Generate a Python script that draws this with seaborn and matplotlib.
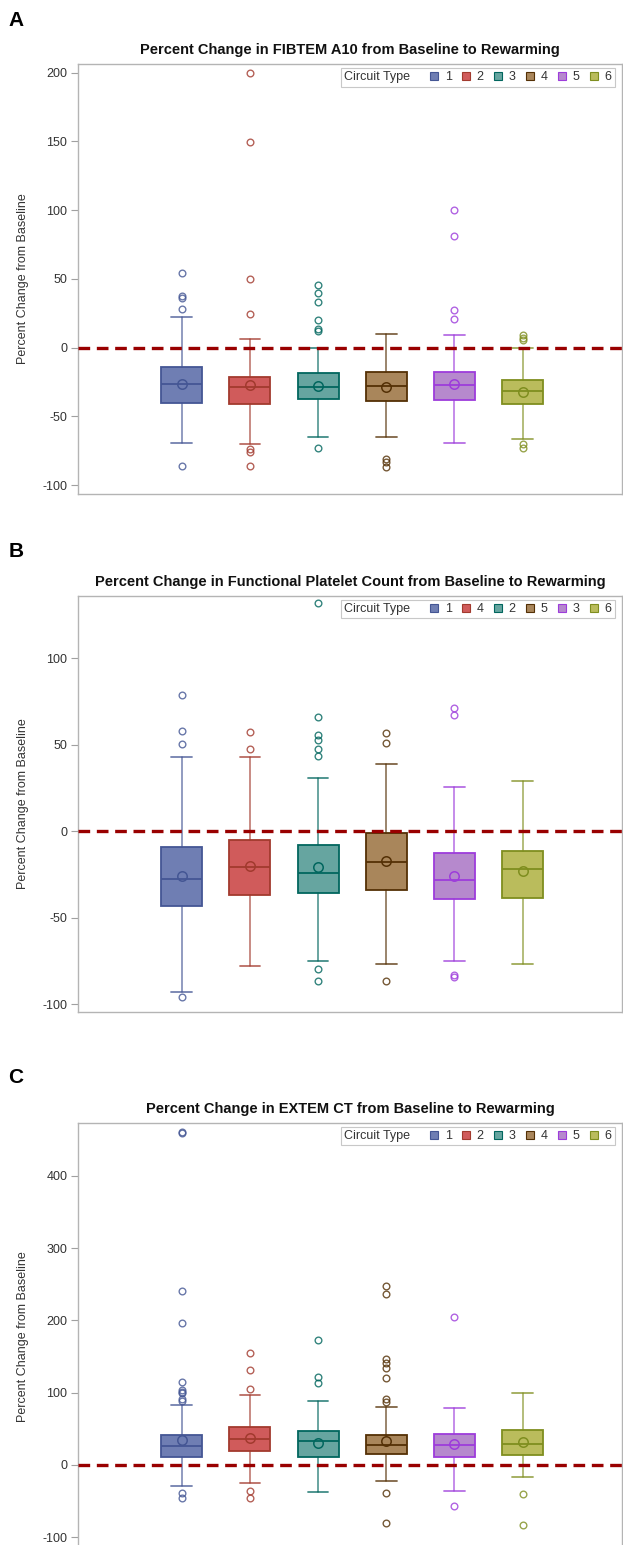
import matplotlib
matplotlib.use("Agg")
import matplotlib.pyplot as plt
import seaborn as sns
import numpy as np
from matplotlib.lines import Line2D
from matplotlib.offsetbox import HPacker

# ---------------- data ----------------
FILL = ["#6F7EB3", "#D05B5B", "#66A5A0", "#A9865B", "#B689CD", "#BABC5C"]
LINE = ["#445694", "#A23A2E", "#01665E", "#543005", "#9D3CDB", "#7F8E1F"]

# Panel A: FIBTEM A10
a_title = "Percent Change in FIBTEM A10 from Baseline to Rewarming"
a_types = ["1", "2", "3", "4", "5", "6"]
a_q1 = [-40.0, -41.0, -37.4, -38.8, -38.3, -41.0]
a_med = [-26.7, -28.9, -28.6, -27.9, -26.9, -31.3]
a_q3 = [-14.3, -21.4, -18.4, -17.7, -17.7, -23.3]
a_lo = [-69.4, -70.1, -65.0, -64.8, -69.4, -66.7]
a_hi = [22.0, 6.0, 0.0, 10.0, 9.0, 0.0]
a_mean = [-26.2, -27.4, -27.9, -28.6, -26.2, -32.5]
a_out = [[54.4, 37.4, 36.4, 28.4, -86.0],
         [200.0, 149.8, 49.8, 24.8, -73.8, -76.0, -86.4],
         [45.4, 39.8, 33.3, 19.9, 13.8, 11.9, -72.8],
         [-80.8, -83.3, -86.9],
         [100.0, 81.1, 27.2, 21.1],
         [9.0, 7.3, 5.8, -69.9, -72.8]]
a_yticks = [-100, -50, 0, 50, 100, 150, 200]

# Panel B: Functional Platelet Count
b_title = "Percent Change in Functional Platelet Count from Baseline to Rewarming"
b_types = ["1", "4", "2", "5", "3", "6"]
b_q1 = [-43.2, -37.2, -35.9, -34.3, -39.3, -38.4]
b_med = [-27.6, -20.6, -24.3, -17.7, -28.4, -22.0]
b_q3 = [-8.9, -5.0, -7.9, -1.2, -12.9, -11.2]
b_lo = [-93.0, -78.1, -75.2, -77.1, -75.0, -77.0]
b_hi = [43.0, 43.0, 31.0, 38.8, 25.8, 29.1]
b_mean = [-25.8, -20.1, -21.0, -17.0, -25.7, -23.1]
b_out = [[78.9, 57.9, 50.3, -96.0],
         [57.1, 47.6],
         [131.9, 66.2, 55.4, 52.8, 47.4, 43.6, -80.0, -86.6],
         [56.9, 51.1, -86.6],
         [71.2, 67.1, -83.3, -84.1],
         []]
b_yticks = [-100, -50, 0, 50, 100]

# Panel C: EXTEM CT
c_title = "Percent Change in EXTEM CT from Baseline to Rewarming"
c_types = ["1", "2", "3", "4", "5", "6"]
c_q1 = [10.6, 18.9, 11.5, 14.7, 11.5, 13.8]
c_med = [26.3, 35.5, 33.2, 28.1, 27.2, 29.5]
c_q3 = [41.2, 52.5, 47.0, 41.9, 42.4, 48.8]
c_lo = [-28.6, -25.3, -36.9, -21.7, -36.4, -17.0]
c_hi = [82.4, 96.8, 88.5, 80.2, 78.8, 100.0]
c_mean = [34.3, 37.8, 30.9, 33.6, 28.6, 31.3]
c_out = [[461.0, 459.0, 241.0, 195.9, 114.3, 103.7, 101.4, 99.0, 90.8, 89.0, -39.0, -45.0],
         [154.8, 131.3, 105.1, -35.9, -46.1],
         [173.3, 122.1, 113.8],
         [247.5, 236.4, 146.5, 140.6, 134.6, 120.7, 91.2, 87.6, -38.7, -80.6],
         [205.0, -56.2],
         [-40.6, -82.5]]
c_yticks = [-100, 0, 100, 200, 300, 400]

# ---------------- style ----------------
sns.set_theme(style="white")
plt.rcParams['font.family'] = ['Liberation Sans', 'DejaVu Sans']
plt.rcParams['axes.unicode_minus'] = False

W, H = 623, 1545
fig = plt.figure(figsize=(W / 100, H / 100), dpi=100)


def add_axes_px(left, top, right, bottom):
    return fig.add_axes([left / W, 1 - bottom / H, (right - left) / W, (bottom - top) / H])


def panel(ax, types, q1, med, q3, lo, hi, mean, out, ylim, yticks, title, axh_px):
    for i in range(len(types)):
        st = dict(q1=q1[i], med=med[i], q3=q3[i], whislo=lo[i], whishi=hi[i],
                  mean=mean[i], fliers=np.array(out[i], dtype=float), label=types[i])
        ax.bxp([st], positions=[i], widths=0.6, capwidths=0.3, patch_artist=True,
               showmeans=True, meanline=False, manage_ticks=False,
               boxprops=dict(facecolor=FILL[i], edgecolor=LINE[i], linewidth=1.3),
               medianprops=dict(color=LINE[i], linewidth=1.3),
               whiskerprops=dict(color=LINE[i], alpha=0.75, linewidth=1.1),
               capprops=dict(color=LINE[i], alpha=0.75, linewidth=1.3),
               flierprops=dict(marker='o', markerfacecolor='none', markeredgecolor=LINE[i],
                               alpha=0.8, markersize=4.8, markeredgewidth=1.0, linestyle='none'),
               meanprops=dict(marker='o', markerfacecolor='none', markeredgecolor=LINE[i],
                              markersize=6.8, markeredgewidth=1.1, linestyle='none'))
    ax.axhline(0, color='#990000', lw=2.4, linestyle=(0, (3.5, 2.0)), zorder=6)
    ax.set_xlim(-1.516, 6.456)
    ax.set_ylim(*ylim)
    ax.set_xticks([])
    ax.set_yticks(yticks)
    ax.set_yticklabels([str(t) for t in yticks])
    ax.tick_params(axis='y', left=True, length=5, width=0.8, color='#A0A0A0',
                   labelsize=9, pad=3, labelcolor='#333333')
    for s in ax.spines.values():
        s.set_color('#B4B4B4')
        s.set_linewidth(1.0)
    ax.set_ylabel("Percent Change from Baseline", fontsize=9, color='#333333')
    ax.yaxis.set_label_coords(-0.0914, 0.5)
    ax.text(0.5, 1 + 14 / axh_px, title, transform=ax.transAxes, ha='center', va='center',
            fontsize=10.5, fontweight='bold', color='#111111')
    ax.grid(False)

    handles = [Line2D([], [], linestyle='none', marker='s', markersize=6,
                      markerfacecolor=FILL[i], markeredgecolor=LINE[i], markeredgewidth=0.8)
               for i in range(6)]
    axw_px = 622 - 78.3
    leg = ax.legend(handles, types, title='Circuit Type', ncol=6, loc='upper right',
                    bbox_to_anchor=(1 - 7.5 / axw_px, 1 - 4.3 / axh_px), borderaxespad=0,
                    fontsize=9, title_fontsize=9, frameon=True, fancybox=False,
                    handlelength=0.7, handletextpad=0.5, columnspacing=0.8,
                    borderpad=0.25, edgecolor='#C8C8C8', framealpha=1)
    leg.get_frame().set_linewidth(0.8)
    for t in leg.get_texts():
        t.set_color('#333333')
    leg.get_title().set_color('#333333')
    try:
        old = leg._legend_box
        new = HPacker(pad=old.pad, sep=14, align='center',
                      children=[leg._legend_title_box, leg._legend_handle_box])
        new.set_figure(fig)
        new.axes = ax
        leg._legend_box = new
        new.set_offset(leg._findoffset)
    except Exception:
        pass


axA = add_axes_px(78.3, 64, 622, 494)
panel(axA, a_types, a_q1, a_med, a_q3, a_lo, a_hi, a_mean, a_out,
      (-106.5, 206.3), a_yticks, a_title, 430)

axB = add_axes_px(78.3, 595.7, 622, 1012.3)
panel(axB, b_types, b_q1, b_med, b_q3, b_lo, b_hi, b_mean, b_out,
      (-104.8, 136.2), b_yticks, b_title, 416.6)

axC = add_axes_px(78.3, 1122.7, 622, 1550)
panel(axC, c_types, c_q1, c_med, c_q3, c_lo, c_hi, c_mean, c_out,
      (-117.6, 473.3), c_yticks, c_title, 427.3)

for lab, y in [("A", 20.5), ("B", 551.5), ("C", 1077.5)]:
    fig.text(16 / W, 1 - y / H, lab, ha='center', va='center', fontsize=15,
             fontweight='bold', color='black')

fig.savefig("out.png", dpi=100, facecolor='white')
